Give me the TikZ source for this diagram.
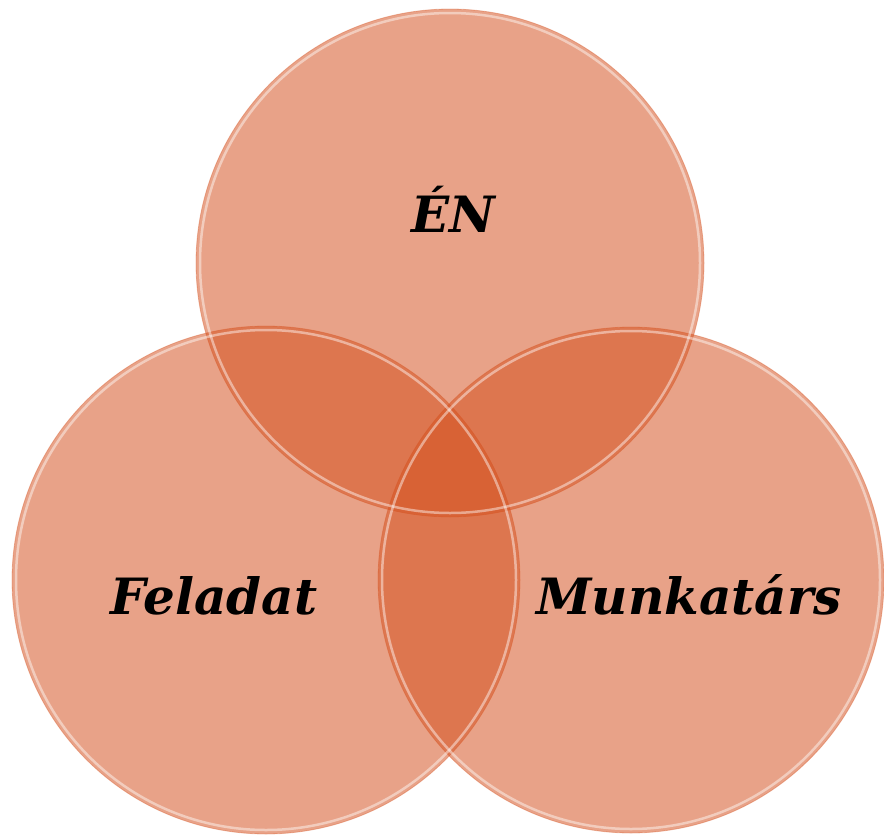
\documentclass[tikz,border=0pt]{standalone}
\usepackage{fontspec}
\newfontfamily\labelfont{DejaVu Serif}
\definecolor{venn}{RGB}{212,80,30}
\tikzset{
  x=1pt, y=-1pt,
  venncircle/.style={fill=venn, fill opacity=0.53, draw=venn, draw opacity=0.35, line width=0.8pt},
  rim/.style={draw=white, draw opacity=0.45, line width=2.5pt},
  vennlabel/.style={font=\labelfont\bfseries\itshape\fontsize{50}{60}\selectfont, text=black, inner sep=0pt, anchor=base}
}
\begin{document}
\begin{tikzpicture}
\useasboundingbox (0,0) rectangle (884,835);
\coordinate (ct) at (450,263);
\coordinate (cl) at (266,580);
\coordinate (cr) at (631,580);
\path[venncircle] (ct) circle (254);
\path[venncircle] (cl) circle (254);
\path[venncircle] (cr) circle (253);
\draw[rim] (ct) circle (250);
\draw[rim] (cl) circle (250);
\draw[rim] (cr) circle (249);
\node[vennlabel] (en) at (453,232) {ÉN};
\node[vennlabel] (feladat) at (214,614) {Feladat};
\node[vennlabel] (munkatars) at (689,614) {Munkatárs};
\end{tikzpicture}
\end{document}
